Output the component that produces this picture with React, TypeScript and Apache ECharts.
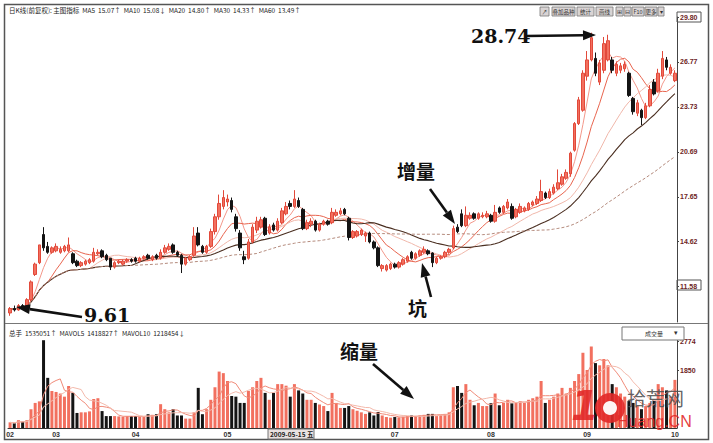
import React, { useEffect, useRef } from "react";
import * as echarts from "echarts";

// ---- data ----
const monthLabels = ["02", "03", "04", "05", "07", "08", "09", "10"];
const monthStartIndex = [0, 11, 30, 52, 92, 115, 138, 159];
const priceTicks = [11.58, 14.62, 17.65, 20.69, 23.73, 26.77, 29.8];
const volumeTicks = [1850, 2774];

// [open, close, low, high]
const candles: number[][] = [
  [9.8, 10.1, 9.61, 10.2], [10.1, 10.0, 9.9, 10.3], [10.0, 10.3, 9.95, 10.4], [10.3, 10.2, 10.1, 10.4],
  [10.2, 10.7, 10.15, 10.8], [10.7, 11.9, 10.6, 12.0], [12.4, 13.1, 12.3, 13.2], [13.2, 14.4, 13.1, 14.4],
  [15.1, 14.2, 14.0, 15.6], [14.3, 13.9, 13.8, 14.6], [13.9, 14.2, 13.8, 14.3], [14.0, 14.3, 13.9, 14.5],
  [13.9, 14.1, 13.8, 14.3], [14.0, 14.3, 13.9, 14.4], [14.0, 14.4, 13.9, 14.9], [13.8, 13.2, 13.1, 13.9],
  [13.3, 13.0, 12.9, 13.4], [13.0, 13.2, 12.9, 13.3], [13.1, 13.3, 13.0, 13.4], [13.2, 13.4, 13.1, 13.5],
  [13.3, 13.9, 13.2, 14.2], [13.8, 13.9, 13.7, 14.1], [14.0, 13.6, 13.5, 14.1], [13.7, 13.4, 13.3, 13.8],
  [13.5, 12.9, 12.7, 13.5], [12.9, 13.2, 12.8, 13.3], [13.2, 13.3, 13.1, 13.4], [13.1, 13.3, 13.0, 13.4],
  [13.3, 13.4, 13.2, 13.5], [13.4, 13.3, 13.2, 13.5], [13.5, 13.3, 13.2, 13.6], [13.3, 13.5, 13.2, 13.6],
  [13.5, 13.6, 13.4, 13.7], [13.7, 13.5, 13.4, 13.8], [13.4, 13.6, 13.3, 13.7], [13.7, 13.5, 13.4, 13.8],
  [13.5, 13.9, 13.4, 14.1], [13.9, 14.2, 13.8, 14.4], [14.1, 14.3, 14.0, 14.5], [14.4, 13.9, 13.8, 14.5],
  [13.9, 13.7, 13.6, 14.0], [13.7, 13.1, 12.5, 13.8], [13.1, 13.5, 13.0, 13.6], [13.4, 13.6, 13.3, 13.7],
  [13.7, 15.0, 13.6, 15.6], [15.2, 14.4, 14.3, 15.6], [14.3, 13.9, 13.8, 14.4], [13.9, 14.3, 13.8, 14.4],
  [14.3, 15.3, 14.2, 15.5], [15.3, 16.3, 15.1, 16.5], [16.3, 17.2, 16.1, 17.8], [17.0, 17.6, 16.8, 18.1],
  [17.3, 17.5, 17.0, 17.8], [17.4, 16.8, 16.6, 17.6], [16.3, 15.5, 15.3, 16.5], [15.2, 14.2, 14.0, 15.4],
  [13.6, 13.4, 13.1, 14.0], [13.5, 14.6, 13.4, 14.8], [14.6, 15.6, 14.5, 15.8], [15.4, 16.0, 15.2, 16.3],
  [15.6, 16.1, 15.5, 16.3], [16.2, 15.1, 15.0, 16.3], [15.2, 15.6, 15.1, 15.8], [15.75, 15.4, 15.3, 15.9],
  [15.4, 16.0, 15.3, 16.2], [15.9, 16.7, 15.8, 16.9], [16.5, 17.0, 16.4, 17.3], [17.2, 17.0, 16.8, 17.4],
  [17.0, 17.5, 16.9, 18.1], [17.4, 17.0, 16.9, 17.6], [16.8, 15.5, 15.4, 16.9], [15.5, 15.9, 15.4, 16.1],
  [15.8, 16.0, 15.6, 16.2], [16.0, 15.4, 15.3, 16.1], [15.4, 15.8, 15.3, 15.9], [15.8, 16.0, 15.7, 16.1],
  [16.0, 15.8, 15.7, 16.1], [15.9, 16.6, 15.8, 16.9], [16.4, 16.6, 16.3, 16.8], [16.5, 16.7, 16.4, 16.9],
  [16.8, 16.5, 16.4, 16.9], [16.2, 14.9, 14.7, 16.3], [14.9, 15.3, 14.8, 15.4], [15.0, 15.3, 14.9, 15.4],
  [15.1, 15.4, 15.0, 15.5], [15.0, 15.2, 14.6, 15.3], [15.2, 14.6, 14.5, 15.3], [14.6, 14.2, 14.1, 14.7],
  [14.2, 13.0, 12.9, 14.3], [12.8, 13.0, 12.6, 13.1], [12.7, 13.0, 12.6, 13.1], [12.8, 13.1, 12.7, 13.2],
  [13.1, 12.9, 12.8, 13.2], [12.9, 13.2, 12.8, 13.3], [13.1, 13.4, 13.0, 13.5], [13.3, 13.6, 13.2, 13.7],
  [13.9, 13.5, 13.4, 14.0], [13.5, 13.8, 13.4, 13.9], [13.7, 14.0, 13.6, 14.1], [13.9, 14.1, 13.8, 14.3],
  [14.0, 13.8, 13.7, 14.1], [13.85, 13.2, 12.9, 13.9], [13.2, 13.5, 13.1, 13.6], [13.5, 13.6, 13.4, 13.7],
  [13.6, 13.9, 13.5, 14.0], [13.9, 14.1, 13.8, 14.2], [14.2, 15.5, 14.1, 15.7], [15.6, 15.3, 15.2, 15.8],
  [16.5, 15.7, 15.6, 16.8], [15.7, 16.4, 15.6, 17.0], [16.2, 16.4, 16.1, 16.6], [16.5, 16.2, 16.1, 16.6],
  [16.2, 16.5, 16.1, 16.6], [16.3, 16.4, 16.2, 16.6], [16.3, 16.5, 16.2, 16.7], [16.4, 16.0, 15.9, 16.5],
  [16.0, 16.6, 15.9, 17.1], [16.9, 16.6, 16.5, 17.0], [16.6, 17.0, 16.5, 17.1], [16.9, 17.3, 16.8, 17.5],
  [17.0, 16.2, 16.1, 17.2], [16.3, 16.8, 16.2, 16.9], [16.6, 17.0, 16.5, 17.2], [16.7, 16.9, 16.6, 17.0],
  [16.8, 17.2, 16.7, 17.3], [17.1, 17.3, 17.0, 17.4], [17.2, 17.5, 17.1, 17.7], [17.4, 18.0, 17.3, 18.8],
  [17.9, 17.6, 17.5, 18.0], [17.6, 18.0, 17.5, 18.2], [17.9, 18.3, 17.8, 18.5], [18.2, 18.6, 18.1, 19.5],
  [18.5, 19.0, 18.4, 19.2], [18.9, 19.3, 18.8, 19.5], [19.2, 20.6, 19.0, 20.7], [20.8, 22.6, 20.7, 22.7],
  [22.6, 24.2, 22.5, 24.4], [23.5, 26.0, 23.4, 26.2], [25.8, 26.9, 25.5, 27.5], [26.9, 28.4, 26.8, 28.74],
  [27.0, 26.0, 25.8, 27.4], [25.4, 26.7, 25.2, 26.9], [26.2, 28.0, 26.0, 28.45], [26.9, 28.2, 26.8, 28.6],
  [26.9, 26.2, 26.0, 27.1], [26.0, 26.6, 25.8, 26.8], [26.2, 26.5, 26.0, 26.7], [26.3, 26.6, 26.1, 26.8],
  [26.0, 24.5, 24.4, 26.1], [24.3, 23.4, 23.2, 24.4], [23.3, 24.0, 23.1, 24.2], [23.5, 23.0, 22.5, 23.6],
  [23.0, 23.8, 22.9, 24.0], [23.8, 24.9, 23.7, 25.2], [25.4, 24.6, 24.5, 25.6], [24.8, 26.0, 24.7, 26.3],
  [25.8, 27.0, 25.6, 27.5], [26.9, 26.4, 26.2, 27.1], [26.0, 26.4, 25.9, 26.6], [25.5, 26.0, 25.4, 26.2],
];

// volume (thousand lots)
const volumes: number[] = [
  180, 150, 250, 200, 250, 600, 800, 850, 2800, 1600,
  1180, 1150, 1100, 1000, 1340, 1120, 480, 500, 500, 530,
  925, 950, 540, 380, 380, 380, 370, 360, 380, 380,
  380, 360, 350, 440, 420, 440, 760, 600, 500, 600,
  400, 400, 300, 300, 500, 1280, 440, 600, 900, 1300,
  1800, 1750, 1500, 1020, 1000, 800, 800, 1180, 1300, 1500,
  1600, 1120, 900, 1120, 1400, 1400, 1350, 1000, 1400, 1200,
  1100, 900, 900, 800, 750, 700, 540, 1120, 800, 640,
  640, 700, 600, 550, 500, 450, 500, 400, 510, 400,
  350, 330, 350, 340, 360, 380, 400, 380, 400, 420,
  450, 450, 380, 420, 450, 500, 1300, 1340, 1120, 1400,
  900, 725, 800, 700, 700, 790, 1100, 725, 800, 900,
  790, 800, 850, 800, 900, 950, 1000, 1500, 800, 900,
  1000, 1100, 1280, 1100, 1280, 1500, 1720, 2400, 1850, 2600,
  2070, 2000, 2200, 2000, 1400, 1300, 1100, 1000, 860, 800,
  700, 600, 700, 800, 900, 1400, 1300, 1200, 1000, 1535,
];

const days = candles.map((_, i) => String(i));
const closes = candles.map((c) => c[1]);

function movingAverage(values: number[], n: number) {
  return values.map((_, i) => {
    const s = Math.max(0, i - n + 1);
    let sum = 0;
    for (let k = s; k <= i; k++) sum += values[k];
    return +(sum / (i - s + 1)).toFixed(3);
  });
}

const UP = "#f2705f";
const UP_BORDER = "#e2493a";
const DOWN = "#141414";
const FONT = "Liberation Sans, Arial, sans-serif";
const CJK = "Noto Sans CJK SC";

function arrow(x1: number, y1: number, x2: number, y2: number, head = 11, half = 5) {
  const dx = x2 - x1, dy = y2 - y1;
  const len = Math.sqrt(dx * dx + dy * dy);
  const ux = dx / len, uy = dy / len;
  const bx = x2 - ux * head, by = y2 - uy * head;
  const px = -uy, py = ux;
  return [
    { type: "line", z: 50, shape: { x1, y1, x2: bx, y2: by }, style: { stroke: "#111", lineWidth: 2.6 } },
    {
      type: "polygon", z: 50,
      shape: { points: [[x2, y2], [bx + px * half, by + py * half], [bx - px * half, by - py * half]] },
      style: { fill: "#111" },
    },
  ];
}

const toolbar = [
  { t: "↗", x: 540, w: 9 }, { t: "叠加品种", x: 552, w: 23 }, { t: "统计", x: 577, w: 17 },
  { t: "画线", x: 596, w: 17 }, { t: "⊞", x: 616, w: 7 }, { t: "⊟", x: 624, w: 7 },
  { t: "F10", x: 632, w: 12 }, { t: "更多", x: 645, w: 12 }, { t: "▾", x: 658, w: 6 },
];

export default function App() {
  const ref = useRef<HTMLDivElement>(null);
  useEffect(() => {
    if (!ref.current) return;
    const chart = echarts.init(ref.current, undefined, { renderer: "svg" });
    const ma = (n: number) => movingAverage(closes, n);
    const volMa = (n: number) => movingAverage(volumes, n);
    const line = (name: string, data: number[], color: string, width = 1, type: any = "solid", xi = 0) => ({
      name, type: "line", data, xAxisIndex: xi, yAxisIndex: xi, symbol: "none", silent: true,
      lineStyle: { color, width, type }, z: 3,
    });

    const labelIdx = new Map<number, string>();
    monthStartIndex.forEach((idx, k) => labelIdx.set(idx, monthLabels[k]));

    const graphics: any[] = [
      { type: "rect", z: 40, shape: { x: 4.5, y: 4.5, width: 704, height: 435 }, style: { fill: "none", stroke: "#555", lineWidth: 1.5 } },
      { type: "line", z: 40, shape: { x1: 5, y1: 323.5, x2: 708, y2: 323.5 }, style: { stroke: "#777", lineWidth: 1 } },
      { type: "line", z: 40, shape: { x1: 5, y1: 439.5, x2: 708, y2: 439.5 }, style: { stroke: "#555", lineWidth: 1 } },
      {
        type: "text", z: 40, x: 9, y: 7,
        style: {
          text: "日K线(前复权): 主图指标  MA5  15.07↑  MA10  15.08↓  MA20  14.80↑  MA30  14.33↑  MA60  13.49↑",
          font: `6.5px ${CJK}`, fill: "#222", verticalAlign: "top",
        },
      },
      {
        type: "text", z: 40, x: 9, y: 330,
        style: {
          text: "总手  1535051↑  MAVOL5  1418827↑  MAVOL10  1218454↓",
          font: `6.5px ${CJK}`, fill: "#222", verticalAlign: "top",
        },
      },
      // y-axis label boxes
      { type: "rect", z: 40, shape: { x: 677, y: 12, width: 24, height: 10 }, style: { fill: "none", stroke: "#555", lineWidth: 1 } },
      { type: "rect", z: 40, shape: { x: 677, y: 280, width: 24, height: 10 }, style: { fill: "none", stroke: "#555", lineWidth: 1 } },
      // volume indicator dropdown
      { type: "rect", z: 40, shape: { x: 622, y: 327, width: 62, height: 13 }, style: { fill: "#fff", stroke: "#777", lineWidth: 1 } },
      { type: "text", z: 41, x: 645, y: 330, style: { text: "成交量", font: `6px ${CJK}`, fill: "#333", verticalAlign: "top" } },
      { type: "text", z: 41, x: 674, y: 329, style: { text: "▾", font: `7px ${FONT}`, fill: "#333", verticalAlign: "top" } },
      // crosshair date box on x axis
      { type: "rect", z: 60, shape: { x: 268, y: 429, width: 46, height: 10 }, style: { fill: "#e9e1e1", stroke: "#777", lineWidth: 1 } },
      { type: "text", z: 61, x: 270, y: 430.5, style: { text: "2009-05-15 五", font: `bold 6.5px ${CJK}`, fill: "#222", verticalAlign: "top" } },
      // annotations
      { type: "text", z: 50, x: 471, y: 26, style: { text: "28.74", font: "bold 19px DejaVu Serif", fill: "#111", verticalAlign: "top" } },
      ...arrow(526, 36, 596, 35, 13, 5),
      { type: "text", z: 50, x: 84, y: 305, style: { text: "9.61", font: "bold 19px DejaVu Serif", fill: "#111", verticalAlign: "top" } },
      ...arrow(82, 317, 16, 307, 14, 5),
      { type: "text", z: 50, x: 397, y: 161, style: { text: "增量", font: `bold 19px ${CJK}`, fill: "#111", verticalAlign: "top" } },
      ...arrow(430, 189, 455, 224, 14, 5),
      { type: "text", z: 50, x: 408, y: 298, style: { text: "坑", font: `bold 19px ${CJK}`, fill: "#111", verticalAlign: "top" } },
      ...arrow(431, 297, 422, 263, 14, 5),
      { type: "text", z: 50, x: 340, y: 341, style: { text: "缩量", font: `bold 19px ${CJK}`, fill: "#111", verticalAlign: "top" } },
      ...arrow(373, 364, 414, 399, 14, 5),
      // watermark
      { type: "text", z: 70, x: 571, y: 386, style: { text: "1", font: "italic bold 40px DejaVu Sans", fill: "rgba(226,40,40,0.9)", verticalAlign: "top" } },
      { type: "circle", z: 70, shape: { cx: 610, cy: 408, r: 15 }, style: { fill: "rgba(226,40,40,0.9)" } },
      { type: "circle", z: 71, shape: { cx: 610, cy: 408, r: 7 }, style: { fill: "rgba(255,255,255,0.95)" } },
      { type: "text", z: 70, x: 627, y: 388, style: { text: "拾荒网", font: `19px ${CJK}`, fill: "rgba(80,80,80,0.9)", verticalAlign: "top" } },
      { type: "text", z: 70, x: 617, y: 413, style: { text: "Huang.CN", font: `16px ${FONT}`, fill: "rgba(226,40,40,0.9)", verticalAlign: "top" } },
    ];
    toolbar.forEach((b) => {
      graphics.push({ type: "rect", z: 40, shape: { x: b.x, y: 7, width: b.w, height: 9 }, style: { fill: "#d9d4d4", stroke: "#777", lineWidth: 0.8 } });
      graphics.push({
        type: "text", z: 41, x: b.x + b.w / 2, y: 11.5,
        style: { text: b.t, font: `5.5px ${CJK}`, fill: "#333", align: "center", verticalAlign: "middle" },
      });
    });

    chart.setOption({
      animation: false,
      backgroundColor: "#fff",
      grid: [
        { left: 8, right: 36, top: 17, height: 305 },
        { left: 8, right: 36, top: 328, height: 100 },
      ],
      xAxis: [
        {
          type: "category", gridIndex: 0, data: days, boundaryGap: true,
          axisLine: { show: false }, axisTick: { show: false }, axisLabel: { show: false }, splitLine: { show: false },
        },
        {
          type: "category", gridIndex: 1, data: days, boundaryGap: true,
          axisLine: { show: true, lineStyle: { color: "#333", width: 1 } },
          axisTick: { show: false },
          axisLabel: {
            interval: (idx: number) => labelIdx.has(idx),
            formatter: (_v: string, idx: number) => labelIdx.get(idx) ?? "",
            fontSize: 7, fontWeight: "bold", color: "#333", margin: 3, fontFamily: FONT,
          },
          splitLine: { show: false },
        },
      ],
      yAxis: [
        {
          type: "value", gridIndex: 0, position: "right", min: 9.19, max: 29.8, scale: true,
          axisLine: { show: true, lineStyle: { color: "#444", width: 1 } },
          axisTick: { show: true, customValues: priceTicks, length: 2, lineStyle: { color: "#444" } },
          axisLabel: {
            customValues: priceTicks, formatter: (v: number) => v.toFixed(2),
            fontSize: 7, fontWeight: "bold", color: "#6e1e1e", margin: 3, fontFamily: FONT,
          },
          splitLine: { show: false },
        },
        {
          type: "value", gridIndex: 1, position: "right", min: 0, max: 3190,
          axisLine: { show: true, lineStyle: { color: "#444", width: 1 } },
          axisTick: { show: true, customValues: volumeTicks, length: 2, lineStyle: { color: "#444" } },
          axisLabel: {
            customValues: volumeTicks, formatter: (v: number) => String(v),
            fontSize: 7, fontWeight: "bold", color: "#6e1e1e", margin: 3, fontFamily: FONT,
          },
          splitLine: { show: false },
        },
      ],
      graphic: { elements: graphics },
      series: [
        {
          name: "K", type: "candlestick", data: candles, xAxisIndex: 0, yAxisIndex: 0, barWidth: 3, z: 4,
          itemStyle: { color: UP, color0: DOWN, borderColor: UP_BORDER, borderColor0: DOWN, borderWidth: 1 },
        },
        line("MA5", ma(5), "#f3988b", 1),
        line("MA10", ma(10), "#e8654f", 1),
        line("MA20", ma(20), "#f0b7aa", 1),
        line("MA30", ma(30), "#4a2e20", 1.1),
        line("MA60", ma(60), "#b48a7c", 1, [3, 2]),
        {
          name: "VOL", type: "bar", xAxisIndex: 1, yAxisIndex: 1, barWidth: 3, z: 2,
          data: volumes.map((v, i) => ({
            value: v,
            itemStyle: { color: candles[i][1] >= candles[i][0] ? UP : DOWN },
          })),
        },
        line("MAVOL5", volMa(5), "#f08a78", 1, "solid", 1),
        line("MAVOL10", volMa(10), "#f3b9ab", 1, "solid", 1),
      ],
    });
    return () => chart.dispose();
  }, []);
  return <div ref={ref} style={{ position: "fixed", left: 0, top: 0, width: 713, height: 443 }} />;
}
